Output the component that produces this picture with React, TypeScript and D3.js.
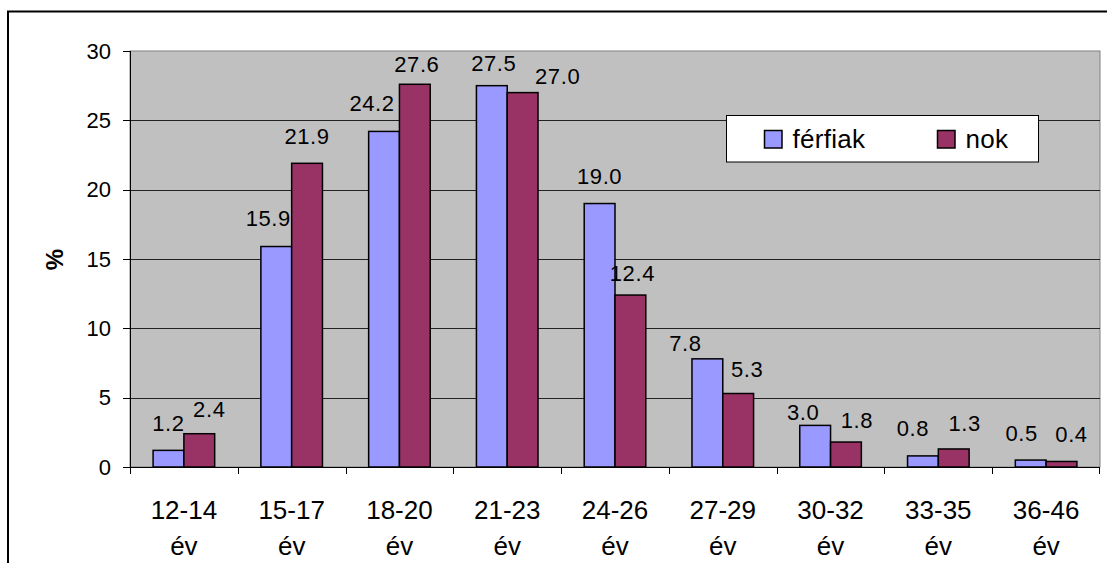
import React from "react";
import * as d3 from "d3";

const categories = ["12-14", "15-17", "18-20", "21-23", "24-26", "27-29", "30-32", "33-35", "36-46"];
const ferfiak = [1.2, 15.9, 24.2, 27.5, 19.0, 7.8, 3.0, 0.8, 0.5];
const nok = [2.4, 21.9, 27.6, 27.0, 12.4, 5.3, 1.8, 1.3, 0.4];
const yTicks = [0, 5, 10, 15, 20, 25, 30];
const seriesNames = ["férfiak", "nok"];
const seriesColors = ["#9999FF", "#993366"];

// manual data-label placement nudges (as in the original chart)
const labelDx = [
  [0, -8, -12, 2, 0, -22, -12, -10, -9],
  [10, 0, 2, 35, 2, 9, 11, 11, 10],
];
const labelDy = [
  [-19.3, -20.7, -20.7, -14.6, -19.3, -8.3, -5, -20, -18.6],
  [-16.7, -19, -12.3, -8.7, -14.3, -17, -14.3, -18, -19],
];

export default function App() {
  const W = 1107, H = 563;
  const left = 130, right = 1100, top = 51, bottom = 467;
  const x = d3.scaleBand<string>().domain(categories).range([left, right]).paddingInner(0).paddingOuter(0);
  const y = d3.scaleLinear().domain([0, 30]).range([bottom, top]);
  const bw = x.bandwidth();
  const barW = bw / 3.5;
  const font = "Arial, 'Liberation Sans', sans-serif";
  const series = [ferfiak, nok];

  return (
    <svg width={W} height={H} style={{ position: "absolute", left: 0, top: 0 }} fontFamily={font}>
      <rect x={0} y={0} width={W} height={H} fill="#fff" />
      <rect x={8} y={11.5} width={1120} height={600} fill="none" stroke="#000" strokeWidth={2} />
      <rect x={left} y={top} width={right - left} height={bottom - top} fill="#C0C0C0" stroke="#808080" strokeWidth={1} />
      {yTicks.filter(t => t > 0 && t < 30).map(t => (
        <line key={t} x1={left} x2={right} y1={Math.round(y(t)) + 0.5} y2={Math.round(y(t)) + 0.5} stroke="#222" strokeWidth={1} />
      ))}
      <line x1={left + 0.5} x2={left + 0.5} y1={top} y2={bottom} stroke="#000" />
      <line x1={left} x2={right} y1={bottom + 0.5} y2={bottom + 0.5} stroke="#000" />
      {yTicks.map(t => (
        <g key={t}>
          <line x1={left - 7} x2={left} y1={Math.round(y(t)) + 0.5} y2={Math.round(y(t)) + 0.5} stroke="#000" />
          <text x={111} y={y(t) + 7.5} textAnchor="end" fontSize={22}>{t}</text>
        </g>
      ))}
      {categories.map((c, i) => (
        <line key={"t" + i} x1={Math.round(x(c)!) + 0.5} x2={Math.round(x(c)!) + 0.5} y1={bottom} y2={bottom + 7} stroke="#000" />
      ))}
      <line x1={right - 0.5} x2={right - 0.5} y1={bottom} y2={bottom + 7} stroke="#000" />
      {categories.map((c, i) => (
        <g key={"c" + i}>
          {series.map((s, j) => {
            const bx = x(c)! + (bw - 2 * barW) / 2 + j * barW;
            const by = y(s[i]);
            return (
              <g key={j}>
                <rect x={bx} y={by} width={barW} height={bottom - by} fill={seriesColors[j]} stroke="#000" strokeWidth={1.5} />
                <text x={bx + barW / 2 + labelDx[j][i]} y={by + labelDy[j][i]} textAnchor="middle" fontSize={22} letterSpacing={0.6}>{s[i].toFixed(1)}</text>
              </g>
            );
          })}
          <text x={x(c)! + bw / 2} y={519} textAnchor="middle" fontSize={26}>{c}</text>
          <text x={x(c)! + bw / 2} y={555} textAnchor="middle" fontSize={26}>év</text>
        </g>
      ))}
      <text transform="translate(63,259.7) rotate(-90)" textAnchor="middle" fontSize={24} fontWeight="bold">%</text>
      <rect x={726.5} y={115.5} width={312} height={46.5} fill="#fff" stroke="#000" strokeWidth={1} />
      {seriesNames.map((n, j) => {
        const sx = j === 0 ? 764.5 : 937.5;
        return (
          <g key={n}>
            <rect x={sx} y={130.5} width={17.5} height={17.5} fill={seriesColors[j]} stroke="#000" strokeWidth={1.5} />
            <text x={sx + 28} y={148} fontSize={26} letterSpacing={0.3}>{n}</text>
          </g>
        );
      })}
    </svg>
  );
}
